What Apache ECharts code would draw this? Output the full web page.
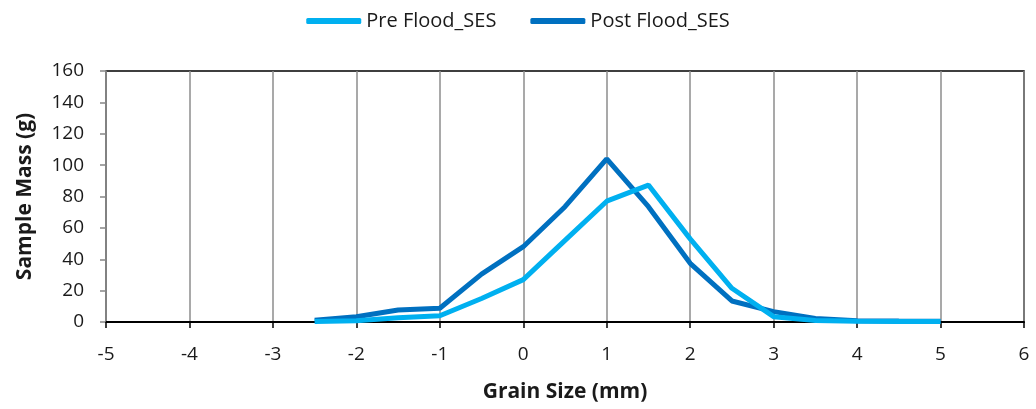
<!DOCTYPE html>
<html><head><meta charset="utf-8">
<script src="https://cdn.jsdelivr.net/npm/echarts@6/dist/echarts.min.js"></script>
<style>html,body{margin:0;padding:0;background:#fff}#c{width:1036px;height:409px}</style>
</head><body><div id="c"></div>
<script>
const grainSize = [-2.5,-2,-1.5,-1,-0.5,0,0.5,1,1.5,2,2.5,3,3.5,4,4.5,5];
const preFlood  = [0.3,0.8,2.7,4,15,27,52,77,87.3,53,21.5,3.4,1,0.5,0.3,0.3];
const postFlood = [1.2,3.4,7.6,8.8,30.5,48,73.5,104,73.5,37.4,13.4,6.6,2.3,0.8,0.6,0.5];
const seriesNames = ['Pre Flood_SES','Post Flood_SES'];

const font = "'Open Sans',sans-serif";
const chart = echarts.init(document.getElementById('c'));
chart.setOption({
  animation:false,
  legend:{top:6,left:'center',itemWidth:55,itemHeight:6,itemGap:34,
    icon:'roundRect',
    textStyle:{fontFamily:font,fontSize:20,color:'#1a1a1a'},
    data:seriesNames},
  grid:{left:106,right:12,top:71,bottom:87,show:true,borderColor:'#000',borderWidth:1.5,
    containLabel:false,outerBoundsMode:'none'},
  xAxis:{type:'value',min:-5,max:6,interval:1,
    axisLine:{onZero:false,lineStyle:{color:'#000',width:2}},
    axisTick:{show:true,length:6,lineStyle:{color:'#000',width:1.5}},
    axisLabel:{fontFamily:font,fontSize:19,color:'#1a1a1a',margin:23},
    splitLine:{show:true,lineStyle:{color:'#8c8c8c',width:1.5}},
    name:'Grain Size (mm)',nameLocation:'middle',nameGap:60,
    nameTextStyle:{fontFamily:font,fontSize:21,fontWeight:'bold',color:'#1a1a1a'}},
  yAxis:{type:'value',min:0,max:160,interval:20,
    axisLine:{show:true,onZero:false,lineStyle:{color:'#868686',width:1.5}},
    axisTick:{show:true,length:6,lineStyle:{color:'#868686',width:1.5}},
    axisLabel:{fontFamily:font,fontSize:19,color:'#1a1a1a',margin:22},
    splitLine:{show:false},
    name:'Sample Mass (g)',nameLocation:'middle',nameGap:70,nameRotate:90,
    nameTextStyle:{fontFamily:font,fontSize:21,fontWeight:'bold',color:'#1a1a1a'}},
  series:[
    {name:seriesNames[0],type:'line',data:grainSize.map((x,i)=>[x,preFlood[i]]),
     showSymbol:false,symbol:'none',lineStyle:{color:'#00B0F0',width:5},itemStyle:{color:'#00B0F0'},z:3},
    {name:seriesNames[1],type:'line',data:grainSize.map((x,i)=>[x,postFlood[i]]),
     showSymbol:false,symbol:'none',lineStyle:{color:'#0070C0',width:5},itemStyle:{color:'#0070C0'},z:2}
  ]
});
</script></body></html>
